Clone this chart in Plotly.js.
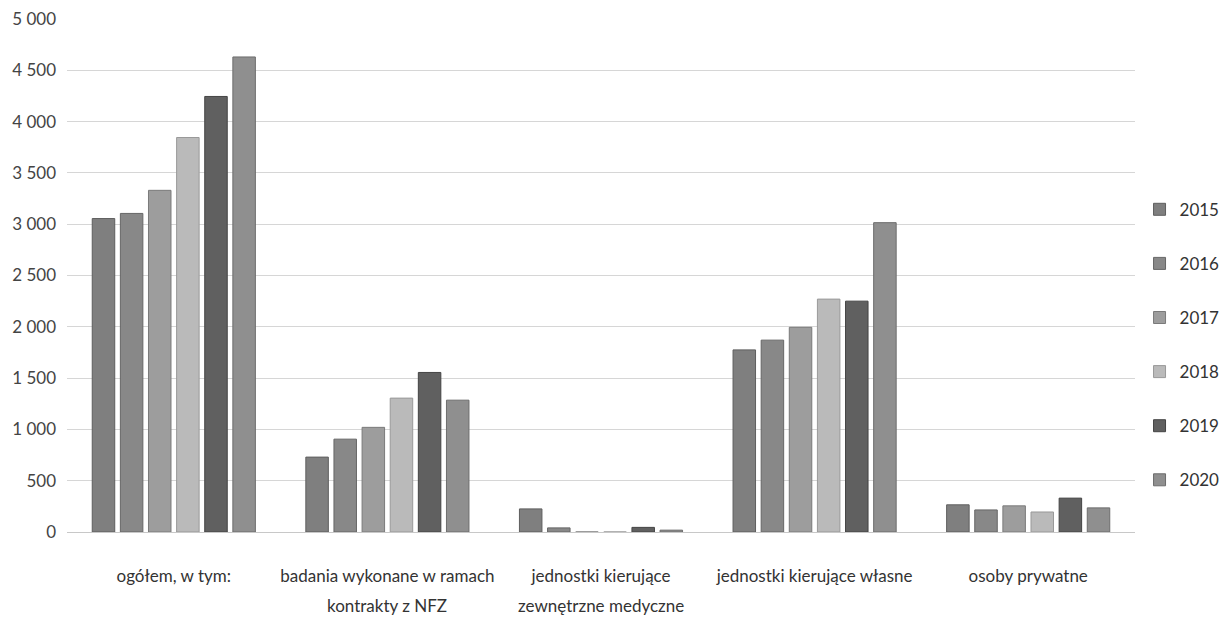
<!DOCTYPE html>
<html>
<head>
<meta charset="utf-8">
<script src="https://cdn.plot.ly/plotly-3.0.1.min.js"></script>
<style>html,body{margin:0;padding:0;background:#fff;}#chart{width:1224px;height:618px;}</style>
</head>
<body>
<div id="chart"></div>
<script>
const categories = ["ogółem, w tym:", "badania wykonane w ramach", "jednostki kierujące", "jednostki kierujące własne", "osoby prywatne"];
const secondLines = ["", "kontrakty z NFZ", "zewnętrzne medyczne", "", ""];
const years = ["2015", "2016", "2017", "2018", "2019", "2020"];
const v2015 = [3055, 730, 225, 1775, 265];
const v2016 = [3105, 905, 40, 1870, 215];
const v2017 = [3330, 1020, 0, 1995, 255];
const v2018 = [3845, 1305, 0, 2270, 195];
const v2019 = [4245, 1555, 45, 2250, 330];
const v2020 = [4630, 1285, 18, 3015, 235];
const seriesValues = [v2015, v2016, v2017, v2018, v2019, v2020];
const fills = ["#7f7f7f", "#888888", "#9d9d9d", "#bababa", "#606060", "#8f8f8f"];
const lines = ["#5e5e5e", "#666666", "#7a7a7a", "#999999", "#444444", "#6c6c6c"];

const font = "Lato, 'Open Sans', sans-serif";

const traces = years.map((y, i) => ({
  type: "bar",
  name: y,
  x: categories,
  y: seriesValues[i],
  legendgroup: y,
  marker: {color: fills[i], line: {color: lines[i], width: 1}},
  hoverinfo: "x+y+name"
}));

const annotations = categories.map((c, i) => ({
  x: c, xref: "x", y: 0, yref: "paper", yshift: -86,
  text: secondLines[i], showarrow: false,
  font: {family: font, size: 17, color: "#333"}
})).filter(a => a.text);

const layout = {
  width: 1224, height: 618,
  margin: {l: 67, r: 89, t: 19, b: 86},
  paper_bgcolor: "#fff", plot_bgcolor: "#fff",
  separators: ", ",
  barmode: "group",
  bargap: 0.21,
  bargroupgap: 0.2,
  font: {family: font, size: 17, color: "#333"},
  showlegend: true,
  legend: {xref: "container", x: 0.931, xanchor: "left", y: 0.365, yanchor: "middle",
           traceorder: "grouped", tracegroupgap: 29, itemwidth: 30,
           font: {family: font, size: 17, color: "#333"}},
  xaxis: {type: "category", showgrid: false, showline: false, zeroline: false,
          ticks: "", ticklabelstandoff: 32, tickfont: {family: font, size: 17, color: "#333"}},
  yaxis: {range: [0, 5000], dtick: 500, tick0: 0, separatethousands: true,
          showgrid: true, gridcolor: "#d6d6d6", gridwidth: 1, zeroline: true, zerolinecolor: "#c8c8c8",
          showline: false, ticks: "", ticklabelstandoff: 10,
          tickfont: {family: font, size: 17, color: "#444"}},
  annotations: annotations
};

Plotly.newPlot("chart", traces, layout, {displayModeBar: false, staticPlot: true});
</script>
</body>
</html>
